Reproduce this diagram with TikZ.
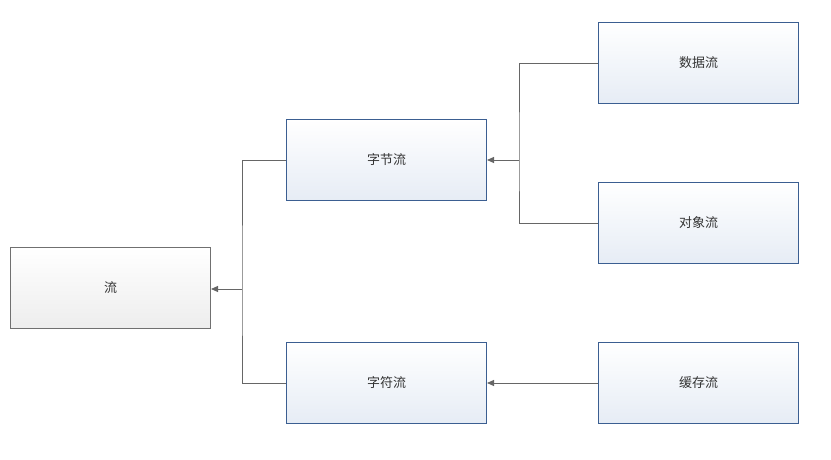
\documentclass[tikz,border=0pt]{standalone}
\usepackage{fontspec}
\newfontfamily\cjk{Noto Sans CJK SC}
\usetikzlibrary{arrows.meta}
\definecolor{bluebd}{HTML}{3B5E91}
\definecolor{bluefill}{HTML}{E6ECF5}
\definecolor{graybd}{HTML}{707070}
\definecolor{grayfill}{HTML}{EDEDED}
\definecolor{linec}{HTML}{666666}
\definecolor{txt}{HTML}{333333}
\tikzset{
  bluebox/.style={draw=bluebd, line width=1pt, top color=white, bottom color=bluefill,
    minimum width=200pt, minimum height=81pt, inner sep=0pt, anchor=north west,
    font=\cjk\fontsize{13}{14}\selectfont, text=txt},
  graybox/.style={bluebox, draw=graybd, bottom color=grayfill},
  conn/.style={draw=linec, line width=1pt},
  arr/.style={conn, -{Triangle[length=7pt,width=6pt]}}
}
\begin{document}
\begin{tikzpicture}[x=1pt,y=-1pt]
\useasboundingbox (0,0) rectangle (831,459);
\node[graybox] (liu) at (10,247) {流};
\node[bluebox] (zj) at (286,119) {字节流};
\node[bluebox] (zf) at (286,342) {字符流};
\node[bluebox] (sj) at (598,22) {数据流};
\node[bluebox] (dx) at (598,182) {对象流};
\node[bluebox] (hc) at (598,342) {缓存流};
\coordinate (j1) at (242,289);
\coordinate (j2) at (519,160);
\draw[conn] (zj.west) -| (j1) |- (zf.west);
\draw[arr] (j1) -- (liu.east |- j1);
\draw[conn] (sj.west) -| (j2) |- (dx.west);
\draw[arr] (j2) -- (zj.east |- j2);
\draw[arr] (hc.west) -- (zf.east);
\end{tikzpicture}
\end{document}
